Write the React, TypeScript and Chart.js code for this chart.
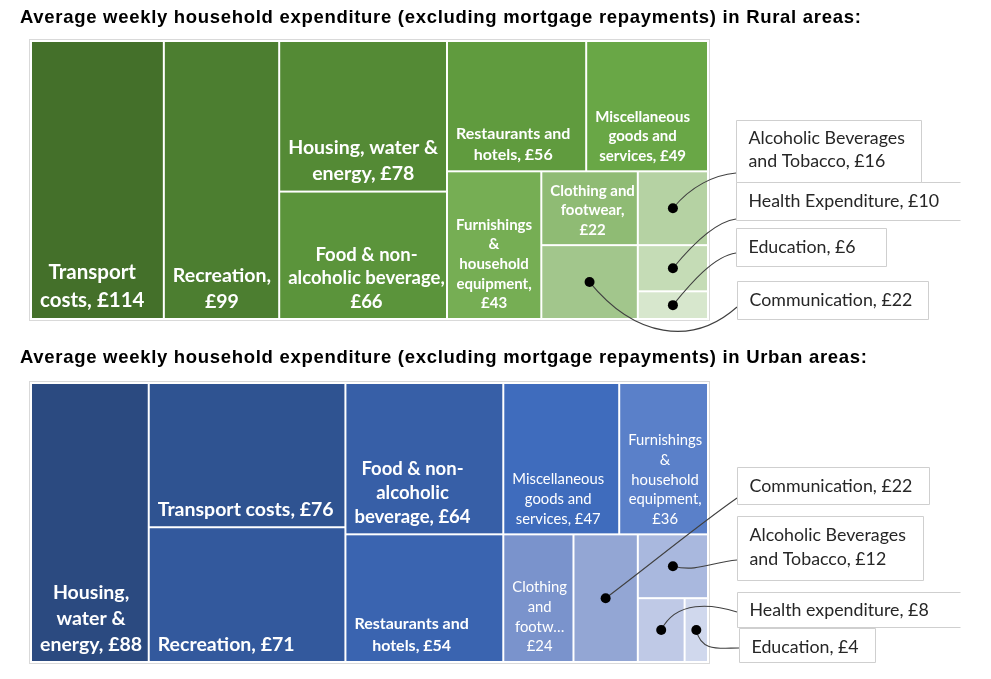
import React, { useEffect, useRef } from "react";
import { Chart, registerables } from "chart.js";

Chart.register(...registerables);

// ---- Rural data ----
const ruralTitle =
  "Average weekly household expenditure (excluding mortgage repayments) in Rural areas:";
const ruralCategories = [
  "Transport costs",
  "Recreation",
  "Housing, water & energy",
  "Food & non-alcoholic beverage",
  "Restaurants and hotels",
  "Miscellaneous goods and services",
  "Furnishings & household equipment",
  "Clothing and footwear",
  "Communication",
  "Alcoholic Beverages and Tobacco",
  "Health Expenditure",
  "Education",
];
const ruralValues = [114, 99, 78, 66, 56, 49, 43, 22, 22, 16, 10, 6];
// label lines as Excel wrapped them ({v} = value)
const ruralLabels = [
  ["Transport", "costs, £{v}"],
  ["Recreation,", "£{v}"],
  ["Housing, water &", "energy, £{v}"],
  ["Food & non-", "alcoholic beverage,", "£{v}"],
  ["Restaurants and", "hotels, £{v}"],
  ["Miscellaneous", "goods and", "services, £{v}"],
  ["Furnishings", "&", "household", "equipment,", "£{v}"],
  ["Clothing and", "footwear,", "£{v}"],
  [],
  [],
  [],
  [],
];
// nested slices: "h" = side by side, "v" = stacked
const ruralLayout: any = [
  "h", 0, 1, ["v", 2, 3],
  ["v", ["h", 4, 5], ["h", 6, ["v", 7, 8], ["v", 9, 10, 11]]],
];
const ruralColors = [
  "#44702a", "#4c7e30", "#548a35", "#5b943b", "#609b3e", "#69a746",
  "#76ae54", "#8fbb74", "#a2c68c", "#b5d2a3", "#c5dcb6", "#d7e7cd",
];

// ---- Urban data ----
const urbanTitle =
  "Average weekly household expenditure (excluding mortgage repayments) in Urban areas:";
const urbanCategories = [
  "Housing, water & energy",
  "Transport costs",
  "Recreation",
  "Food & non-alcoholic beverage",
  "Restaurants and hotels",
  "Miscellaneous goods and services",
  "Furnishings & household equipment",
  "Clothing and footwear",
  "Communication",
  "Alcoholic Beverages and Tobacco",
  "Health expenditure",
  "Education",
];
const urbanValues = [88, 76, 71, 64, 54, 47, 36, 24, 22, 12, 8, 4];
const urbanLabels = [
  ["Housing,", "water &", "energy, £{v}"],
  ["Transport costs, £{v}"],
  ["Recreation, £{v}"],
  ["Food & non-", "alcoholic", "beverage, £{v}"],
  ["Restaurants and", "hotels, £{v}"],
  ["Miscellaneous", "goods and", "services, £{v}"],
  ["Furnishings", "&", "household", "equipment,", "£{v}"],
  ["Clothing", "and", "footw…", "£{v}"],
  [],
  [],
  [],
  [],
];
const urbanLayout: any = [
  "h", 0, ["v", 1, 2], ["v", 3, 4],
  ["v", ["h", 5, 6], ["h", 7, 8, ["v", 9, ["h", 10, 11]]]],
];
const urbanColors = [
  "#2b4a80", "#2f5391", "#33599d", "#375fa7", "#3a64b0", "#3f6cbd",
  "#5a80c9", "#7a93cc", "#93a6d4", "#a9b8de", "#bfc9e6", "#d0d8ed",
];

// label font size / line height / weight per cell
const ruralLabelSize = [20.5, 19.5, 19.5, 18.5, 16, 15, 15, 15, 0, 0, 0, 0];
const ruralLineHeight = [28, 26, 26, 23.5, 21.5, 19.5, 19.7, 19.5, 0, 0, 0, 0];
const ruralLabelBold = [1, 1, 1, 1, 1, 1, 1, 1, 0, 0, 0, 0];
const urbanLabelSize = [19.5, 19.5, 19.5, 18.5, 16, 14.8, 14.8, 14.8, 0, 0, 0, 0];
const urbanLineHeight = [26, 26, 26, 24, 22, 19.7, 19.6, 19.7, 0, 0, 0, 0];
const urbanLabelBold = [1, 1, 1, 1, 1, 0, 0, 0, 0, 0, 0, 0];

// callouts for the small cells (box offsets from plot's right/top edge)
const ruralCallouts = [
  { index: 10, lines: ["Health Expenditure, £{v}"], left: 28, top: 141, w: 224, h: 38, textY: [19], anchor: 37, open: true, c1: [18, -22], c2: [-22, 3] },
  { index: 9, lines: ["Alcoholic Beverages", "and Tobacco, £{v}"], left: 28, top: 79, w: 185, h: 62, textY: [18, 41], anchor: 53, open: false, c1: [18, -22], c2: [-22, 2] },
  { index: 11, lines: ["Education, £{v}"], left: 28, top: 187, w: 150, h: 38, textY: [19], anchor: 25, open: false, c1: [18, -22], c2: [-22, 3] },
  { index: 8, lines: ["Communication, £{v}"], left: 29, top: 240, w: 191, h: 38, textY: [19], anchor: 26, open: false, c1: [45, 55], c2: [-45, 40] },
];
const urbanCallouts = [
  { index: 8, lines: ["Communication, £{v}"], left: 29, top: 84, w: 192, h: 37, textY: [19], anchor: 31, open: false, c1: [40, -30], c2: [-40, 28] },
  { index: 9, lines: ["Alcoholic Beverages", "and Tobacco, £{v}"], left: 29, top: 133, w: 186, h: 64, textY: [19, 43], anchor: 44, open: false, c1: [25, 6], c2: [-25, 2] },
  { index: 10, lines: ["Health expenditure, £{v}"], left: 29, top: 209, w: 223, h: 35, textY: [18], anchor: 20, open: true, c1: [15, -30], c2: [-25, -8] },
  { index: 11, lines: ["Education, £{v}"], left: 31, top: 245, w: 136, h: 34, textY: [19], anchor: 20, open: false, c1: [5, 22], c2: [-20, 0] },
];

const LABEL_FONT = "Lato, 'Open Sans', sans-serif";
const TITLE_FONT = "'Liberation Sans', Arial, sans-serif";

type Rect = { x0: number; y0: number; x1: number; y1: number };

function sumOf(node: any, values: number[]): number {
  if (typeof node === "number") return values[node];
  return node.slice(1).reduce((s: number, k: any) => s + sumOf(k, values), 0);
}

function layoutTree(node: any, values: number[], r: Rect, out: Rect[]) {
  if (typeof node === "number") {
    out[node] = r;
    return;
  }
  const dir = node[0];
  const kids = node.slice(1);
  const total = sumOf(node, values);
  let pos = dir === "h" ? r.x0 : r.y0;
  kids.forEach((k: any) => {
    const f = sumOf(k, values) / total;
    if (dir === "h") {
      const w = (r.x1 - r.x0) * f;
      layoutTree(k, values, { x0: pos, y0: r.y0, x1: pos + w, y1: r.y1 }, out);
      pos += w;
    } else {
      const h = (r.y1 - r.y0) * f;
      layoutTree(k, values, { x0: r.x0, y0: pos, x1: r.x1, y1: pos + h }, out);
      pos += h;
    }
  });
}

type PanelProps = {
  title: string;
  categories: string[];
  values: number[];
  layout: any;
  colors: string[];
  labels: string[][];
  labelSize: number[];
  lineHeight: number[];
  labelBold: number[];
  callouts: any[];
  height: number;
  padTop: number;
  padBottom: number;
};

function TreemapPanel(props: PanelProps) {
  const canvasRef = useRef<HTMLCanvasElement | null>(null);
  const chartRef = useRef<Chart<"scatter"> | null>(null);

  useEffect(() => {
    if (!canvasRef.current) return;
    const ctx = canvasRef.current.getContext("2d");
    if (!ctx) return;
    if (chartRef.current) chartRef.current.destroy();

    const { values, colors, labels, labelSize, lineHeight, labelBold, callouts } = props;
    const rects: Rect[] = [];
    layoutTree(props.layout, values, { x0: 0, y0: 0, x1: 1, y1: 1 }, rects);

    const dots = callouts.map((c) => ({
      x: (rects[c.index].x0 + rects[c.index].x1) / 2,
      y: (rects[c.index].y0 + rects[c.index].y1) / 2,
    }));

    const fill = (s: string, v: number) => s.replace("{v}", String(v));

    const treemapPlugin = {
      id: "treemap",
      beforeDatasetsDraw(chart: any) {
        const c = chart.ctx;
        const xs = chart.scales.x;
        const ys = chart.scales.y;
        const area = chart.chartArea;
        c.save();

        // title
        c.fillStyle = "#000";
        c.font = `bold 18.5px ${TITLE_FONT}`;
        c.letterSpacing = "0.7px";
        c.textAlign = "left";
        c.textBaseline = "middle";
        c.fillText(props.title, 12, 10);
        c.letterSpacing = "0px";

        // outer frame
        c.strokeStyle = "#d9d9d9";
        c.lineWidth = 1;
        c.strokeRect(area.left - 1.5, area.top - 1.5, area.right - area.left + 3, area.bottom - area.top + 3);

        // cells
        rects.forEach((r, i) => {
          const x0 = xs.getPixelForValue(r.x0) + 1;
          const x1 = xs.getPixelForValue(r.x1) - 1;
          const y0 = ys.getPixelForValue(r.y0) + 1;
          const y1 = ys.getPixelForValue(r.y1) - 1;
          c.fillStyle = colors[i];
          c.fillRect(x0, y0, x1 - x0, y1 - y0);

          const lines = labels[i].map((l) => fill(l, values[i]));
          if (!lines.length) return;
          const size = labelSize[i];
          c.font = `${labelBold[i] ? "bold " : ""}${size}px ${LABEL_FONT}`;
          const blockW = Math.max(...lines.map((l) => c.measureText(l).width));
          const cx = x0 + 8 + blockW / 2;
          const lh = lineHeight[i];
          const last = y1 - size * 0.5 - 7;
          c.fillStyle = "#ffffff";
          c.textAlign = "center";
          c.textBaseline = "middle";
          lines.forEach((l, k) => {
            c.fillText(l, cx, last - (lines.length - 1 - k) * lh);
          });
        });

        // leader lines
        c.strokeStyle = "#404040";
        c.lineWidth = 1.1;
        callouts.forEach((co, k) => {
          const px = xs.getPixelForValue(dots[k].x);
          const py = ys.getPixelForValue(dots[k].y);
          const ax = area.right + co.left;
          const ay = area.top + co.top + co.anchor;
          c.beginPath();
          c.moveTo(px, py);
          c.bezierCurveTo(px + co.c1[0], py + co.c1[1], ax + co.c2[0], ay + co.c2[1], ax, ay);
          c.stroke();
        });
        c.restore();
      },
      afterDatasetsDraw(chart: any) {
        const c = chart.ctx;
        const area = chart.chartArea;
        c.save();
        callouts.forEach((co) => {
          const bx = Math.round(area.right + co.left) + 0.5;
          const by = Math.round(area.top + co.top) + 0.5;
          c.fillStyle = "#ffffff";
          c.fillRect(bx, by, co.w, co.h);
          c.strokeStyle = "#cfcfcf";
          c.lineWidth = 1;
          c.beginPath();
          if (co.open) {
            c.moveTo(bx + co.w, by);
            c.lineTo(bx, by);
            c.lineTo(bx, by + co.h);
            c.lineTo(bx + co.w, by + co.h);
          } else {
            c.rect(bx, by, co.w, co.h);
          }
          c.stroke();
          c.fillStyle = "#262626";
          c.font = `17.8px ${LABEL_FONT}`;
          c.textAlign = "left";
          c.textBaseline = "middle";
          co.lines.forEach((l: string, k: number) => {
            c.fillText(fill(l, values[co.index]), bx + 12, by + co.textY[k]);
          });
        });
        c.restore();
      },
    };

    chartRef.current = new Chart(ctx, {
      type: "scatter",
      data: {
        datasets: [
          {
            label: "callouts",
            data: dots,
            pointRadius: 5,
            pointBackgroundColor: "#000000",
            pointBorderWidth: 0,
            clip: false as any,
          },
        ],
      },
      options: {
        animation: false,
        responsive: true,
        maintainAspectRatio: false,
        layout: {
          padding: { left: 23, right: 275, top: props.padTop, bottom: props.padBottom },
        },
        scales: {
          x: { type: "linear", min: 0, max: 1, display: false },
          y: { type: "linear", min: 0, max: 1, reverse: true, display: false },
        },
        plugins: {
          legend: { display: false },
          tooltip: { enabled: false },
        },
      },
      plugins: [treemapPlugin],
    });

    return () => {
      if (chartRef.current) {
        chartRef.current.destroy();
        chartRef.current = null;
      }
    };
  }, []);

  return (
    <div style={{ position: "relative", width: "100%", height: props.height }}>
      <canvas ref={canvasRef} />
    </div>
  );
}

export default function App() {
  return (
    <div style={{ width: "100%" }}>
      <TreemapPanel
        title={ruralTitle}
        categories={ruralCategories}
        values={ruralValues}
        layout={ruralLayout}
        colors={ruralColors}
        labels={ruralLabels}
        labelSize={ruralLabelSize}
        lineHeight={ruralLineHeight}
        labelBold={ruralLabelBold}
        callouts={ruralCallouts}
        height={340}
        padTop={33}
        padBottom={29}
      />
      <TreemapPanel
        title={urbanTitle}
        categories={urbanCategories}
        values={urbanValues}
        layout={urbanLayout}
        colors={urbanColors}
        labels={urbanLabels}
        labelSize={urbanLabelSize}
        lineHeight={urbanLineHeight}
        labelBold={urbanLabelBold}
        callouts={urbanCallouts}
        height={323}
        padTop={35}
        padBottom={9}
      />
    </div>
  );
}
